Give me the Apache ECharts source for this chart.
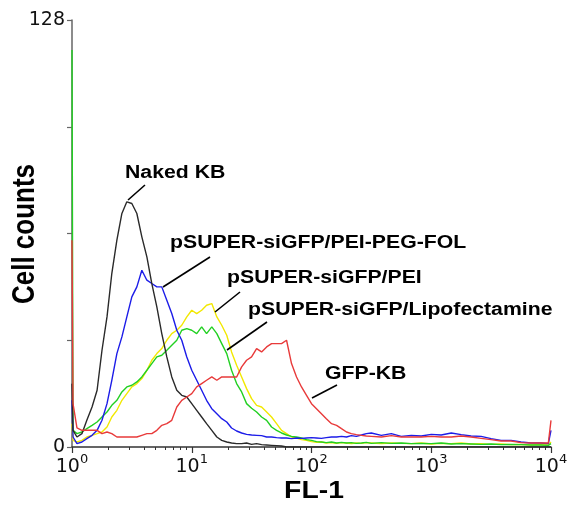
<!DOCTYPE html>
<html>
<head>
<meta charset="utf-8">
<script src="https://cdn.jsdelivr.net/npm/echarts@6/dist/echarts.min.js"></script>
<style>
  html, body { margin: 0; padding: 0; background: #fff; }
  #chart { width: 572px; height: 510px; }
</style>
</head>
<body>
<div id="chart"></div>
<script>
// FL-1 channel values (log axis)
const fl1 = [1, 1.02, 1.10, 1.21, 1.33, 1.47, 1.62, 1.78, 1.96, 2.15, 2.37, 2.61, 2.87, 3.16, 3.48, 3.83, 4.22, 4.64, 5.11, 5.62,
  6.19, 6.81, 7.50, 8.25, 9.09, 10, 11.0, 12.1, 13.3, 14.7, 16.2, 17.8, 19.6, 21.5, 23.7, 26.1, 28.7, 31.6, 34.8, 38.3,
  42.2, 46.4, 51.1, 56.2, 61.9, 68.1, 75.0, 82.5, 90.9, 100, 110, 121, 133, 147, 162, 178, 196, 215, 237, 261,
  287, 316, 383, 464, 562, 681, 825, 1000, 1210, 1470, 1780, 2150, 2610, 3160, 3830, 4640, 5620, 6810, 8250, 9500, 10000];

const nakedKB = [19, 5, 3, 4, 8, 12, 17, 29, 39, 52, 62, 70, 73.5, 73, 70, 63, 57, 49, 42, 34,
  27, 21, 17, 15.5, 15, 13, 11, 9, 7, 5, 3, 2, 1.5, 1.2, 1, 1, 1.2, 0.8, 1, 0.7,
  0.6, 0.5, 0.4, 0.3, 0, 0, 0, 0, 0, 0, 0, 0, 0, 0, 0, 0, 0, 0, 0, 0,
  0, 0, 0, 0, 0, 0, 0, 0, 0, 0, 0, 0, 0, 0, 0, 0, 0, 0, 0, 0, 0];

const pegFol = [14, 3, 1, 1.5, 2.5, 3.5, 5, 8, 13, 20, 28, 33, 39, 45, 48, 53, 50, 49, 48, 48,
  44, 40, 35, 32, 27, 23, 20, 17, 14, 11.5, 10, 8.5, 7.5, 5.7, 4.8, 4.2, 3.8, 3.6, 3.5, 3.4,
  3, 3, 2.8, 2.7, 2.7, 2.5, 2.7, 2.6, 2.7, 2.8, 2.7, 2.6, 2.8, 3, 3, 3.2, 3, 3.4, 3.2, 3.6,
  4, 4.2, 3.5, 4, 3.2, 3.5, 3.3, 3.8, 3.6, 4.2, 3.7, 3.3, 3.2, 2.5, 2, 2, 1.5, 1.2, 1.2, 1, 5];

const pei = [7, 2, 1.5, 2, 3, 3.5, 4, 4.5, 6, 9, 11, 14, 16, 18, 19, 20.5, 23, 26, 28, 29.5,
  32, 34, 35, 36.5, 39, 41, 40, 41, 42.5, 43, 39, 36.5, 33.5, 28.5, 24.5, 21, 17.5, 14.5, 12.5, 12,
  10.5, 9, 7, 5, 4, 3, 2.7, 2.2, 2, 1.6, 1.4, 1.5, 1.2, 1.3, 1.1, 1.3, 1.2, 1.0, 1.2, 1.1,
  1.3, 1.2, 1.0, 1.2, 1.1, 1.0, 1.2, 0.9, 1.1, 1.0, 1.2, 0.9, 1.0, 0.8, 0.9, 0.7, 0.8, 0.6, 0.7, 0.6, 1.5];

const lipo = [119, 5, 4, 4.5, 5.5, 6.5, 7.5, 9, 10.5, 12.5, 14, 16.5, 18, 18.5, 19.5, 21, 23, 25, 27, 27.5,
  29, 30.5, 32, 35, 35.5, 35, 34, 36, 34, 36, 34, 31, 28, 23, 19, 16.5, 13, 11.6, 10.5, 9,
  8, 6, 5, 4.2, 3.6, 3.2, 3, 2.7, 2.2, 2, 1.6, 1.5, 1.3, 1.5, 1.2, 1.4, 1.2, 1.3, 1.1, 1.2,
  1.4, 1.1, 1.3, 1.1, 1.2, 1.0, 1.1, 1.0, 1.2, 0.9, 1.0, 0.9, 0.8, 0.9, 0.7, 0.8, 0.7, 0.6, 0.6, 0.5, 1];

const gfpKB = [62, 13, 5.7, 5, 5, 5, 5, 4, 4.5, 4, 3, 3, 3, 3, 3, 3.5, 4, 4, 5, 6.5,
  7, 8, 12, 14, 15, 16, 18, 19, 20, 21, 20, 21, 21, 21, 21, 24, 26, 27, 29.5, 28.5,
  30, 31, 31, 31, 32, 25, 21, 18, 15.5, 13, 11.5, 10, 8.5, 7, 6.5, 5.5, 4.5, 4, 3.7, 3.5,
  3.3, 3.2, 3, 3.4, 3, 3, 3, 3.2, 3, 3, 3.3, 3, 2.6, 2.2, 1.8, 1.8, 1.3, 1.2, 1.2, 1.2, 8];

const majorTicks = [1, 10, 100, 1000, 10000];
const minorTicks = [2, 3, 4, 5, 6, 7, 8, 9, 20, 30, 40, 50, 60, 70, 80, 90,
  200, 300, 400, 500, 600, 700, 800, 900, 2000, 3000, 4000, 5000, 6000, 7000, 8000, 9000];
const yLabels = [0, 128];

const SERIES = [
  { name: 'pSUPER-siGFP/PEI', data: pei, color: '#f2e800' },
  { name: 'pSUPER-siGFP/Lipofectamine', data: lipo, color: '#22d022' },
  { name: 'pSUPER-siGFP/PEI-PEG-FOL', data: pegFol, color: '#1c1ce8' },
  { name: 'Naked KB', data: nakedKB, color: '#2a2a2a' },
  { name: 'GFP-KB', data: gfpKB, color: '#e83a3a' },
];

// annotation labels: text, left x, center y, leader line
const ANNOTATIONS = [
  { text: 'Naked KB', x: 125, y: 173, line: [145, 185, 128, 200] },
  { text: 'pSUPER-siGFP/PEI-PEG-FOL', x: 170, y: 243, line: [210, 257, 163, 287] },
  { text: 'pSUPER-siGFP/PEI', x: 227, y: 278, line: [240, 292, 215, 312] },
  { text: 'pSUPER-siGFP/Lipofectamine', x: 248, y: 310, line: [267, 322, 227, 350] },
  { text: 'GFP-KB', x: 325, y: 374, line: [337, 385, 312, 398] },
];

const axisColor = '#333';
const labelFont = 'DejaVu Sans';
const boldFont = '"Liberation Sans", Arial, sans-serif';

const chart = echarts.init(document.getElementById('chart'));

const graphics = [];
ANNOTATIONS.forEach(a => {
  graphics.push({
    type: 'text', x: a.x, y: a.y, scaleX: 1.18, z: 100,
    style: { text: a.text, font: 'bold 18px ' + boldFont, fill: '#000', verticalAlign: 'middle' },
  });
  graphics.push({
    type: 'line', z: 100,
    shape: { x1: a.line[0], y1: a.line[1], x2: a.line[2], y2: a.line[3] },
    style: { stroke: '#000', lineWidth: 1.6 },
  });
});
graphics.push({
  type: 'text', x: 314, y: 491, scaleX: 1.18, z: 100,
  style: { text: 'FL-1', font: 'bold 24px ' + boldFont, fill: '#000', align: 'center', verticalAlign: 'middle' },
});
graphics.push({
  type: 'text', x: 26, y: 234, rotation: Math.PI / 2, scaleY: 1.18, z: 100,
  style: { text: 'Cell counts', font: 'bold 26px ' + boldFont, fill: '#000', align: 'center', verticalAlign: 'middle' },
});

chart.setOption({
  backgroundColor: '#fff',
  animation: false,
  grid: { left: 72, right: 21, top: 20, bottom: 63, containLabel: false },
  xAxis: [
    {
      type: 'log', logBase: 10, min: 1, max: 10000,
      axisLine: { lineStyle: { color: axisColor, width: 1.5 } },
      axisTick: { customValues: majorTicks, length: 6, lineStyle: { color: axisColor, width: 1.2 } },
      axisLabel: {
        customValues: majorTicks,
        margin: 6,
        fontSize: 19,
        fontFamily: labelFont,
        color: '#111',
        formatter: v => '{b|10}{s|' + Math.round(Math.log10(v)) + '}',
        rich: {
          b: { fontSize: 19, fontFamily: labelFont, color: '#111', lineHeight: 24, verticalAlign: 'bottom' },
          s: { fontSize: 13, fontFamily: labelFont, color: '#111', lineHeight: 14, verticalAlign: 'top' },
        },
      },
      splitLine: { show: false },
    },
    {
      type: 'log', logBase: 10, min: 1, max: 10000, position: 'bottom',
      axisLine: { show: false },
      axisTick: { customValues: minorTicks, length: 3, lineStyle: { color: axisColor, width: 1 } },
      axisLabel: { show: false },
      splitLine: { show: false },
    },
  ],
  yAxis: {
    type: 'value', min: 0, max: 128, interval: 32,
    axisLine: { show: true, lineStyle: { color: '#666', width: 1.5 } },
    axisTick: { show: true, length: 5, lineStyle: { color: '#666', width: 1.2 } },
    axisLabel: { customValues: yLabels, fontSize: 19, fontFamily: labelFont, color: '#111', margin: 7 },
    splitLine: { show: false },
  },
  series: SERIES.map(s => ({
    name: s.name,
    type: 'line',
    xAxisIndex: 0,
    showSymbol: false,
    silent: true,
    lineStyle: { color: s.color, width: 1.4 },
    data: fl1.map((x, i) => [x, s.data[i]]),
  })),
  graphic: graphics,
});
</script>
</body>
</html>
